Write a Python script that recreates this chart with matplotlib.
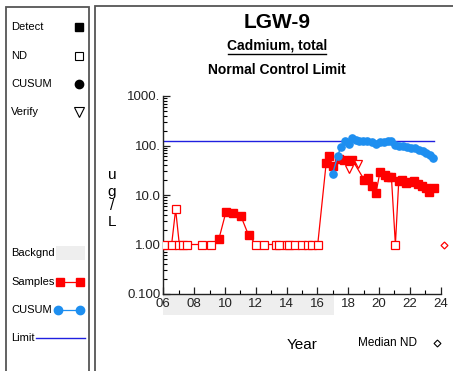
import matplotlib
matplotlib.use("Agg")
import matplotlib.pyplot as plt
from matplotlib.patches import Rectangle
from matplotlib.lines import Line2D
import matplotlib.ticker as mticker

plt.rcParams['font.family'] = ['Liberation Sans', 'DejaVu Sans']

# ---------------- data ----------------
title = "LGW-9"
subtitle = "Cadmium, total"
subtitle2 = "Normal Control Limit"

detect_years = [9.61, 10.07, 10.54, 11.02, 11.54,
                16.57, 16.74, 16.99, 17.40, 17.75, 18.25, 19.03, 19.30, 19.54,
                19.80, 20.06, 20.37, 20.56, 20.80, 21.28, 21.52, 21.75, 22.01,
                22.27, 22.51, 22.77, 23.03, 23.27, 23.55]
detect_vals = [1.3, 4.6, 4.4, 3.85, 1.52,
               44.7, 62.0, 39.4, 54.0, 50.5, 52.0, 20.5, 22.2, 15.0,
               11.1, 29.0, 24.8, 23.3, 23.3, 19.6, 19.9, 17.1, 18.1,
               19.0, 16.8, 15.0, 14.0, 11.4, 14.0]

nd_years = [6.05, 6.54, 6.80, 7.04, 7.26, 7.52, 8.53, 9.10,
            12.03, 12.54, 13.31, 13.51, 14.0, 14.17, 14.55, 14.98, 15.39,
            15.63, 16.02, 21.06]
nd_vals = [1.0, 1.0, 5.1, 1.0, 1.0, 1.0, 1.0, 1.0,
           1.0, 1.0, 1.0, 1.0, 1.0, 1.0, 1.0, 1.0, 1.0,
           1.0, 1.0, 1.0]

verify_years = [18.07, 18.66]
verify_vals = [34.0, 42.0]

cusum_years = [16.99, 17.31, 17.52, 17.78, 18.07, 18.25, 18.49, 18.70, 18.98,
               19.24, 19.52, 19.78, 20.06, 20.34, 20.60, 20.80, 21.06, 21.32,
               21.58, 21.84, 22.08, 22.34, 22.58, 22.84, 23.07, 23.31, 23.52]
cusum_vals = [26.8, 60.8, 94.0, 126.0, 108.0, 143.0, 132.0, 126.0, 122.0,
              122.0, 117.0, 108.0, 117.0, 120.0, 126.0, 122.0, 101.0, 100.0,
              97.0, 94.0, 91.0, 88.0, 83.0, 78.5, 70.0, 63.0, 55.7]

limit_value = 124.0
limit_span = [6.0, 23.55]
background_span = [6.0, 17.05]
median_nd_year = 24.2
median_nd_value = 1.0

x_ticks = [6, 8, 10, 12, 14, 16, 18, 20, 22, 24]
x_tick_labels = ["06", "08", "10", "12", "14", "16", "18", "20", "22", "24"]
y_ticks = [0.1, 1, 10, 100, 1000]
y_tick_labels = ["0.100", "1.00", "10.0", "100.", "1000."]

legend_labels = ["Detect", "ND", "CUSUM", "Verify", "Backgnd", "Samples", "CUSUM", "Limit"]

# ---------------- figure ----------------
W, H = 453, 371
fig = plt.figure(figsize=(W / 100, H / 100), dpi=100)

def fx(px):
    return px / W

def fy(py):
    return 1 - py / H

RED = "#ff0000"
BLUE = "#1e8ff0"
LIMIT = "#2020e0"

# frames
fig.patches.append(Rectangle((fx(6), fy(380)), fx(89) - fx(6), fy(7) - fy(380),
                             transform=fig.transFigure, fill=False,
                             edgecolor="#555555", linewidth=1.3))
fig.patches.append(Rectangle((fx(95), fy(380)), fx(460) - fx(95), fy(6) - fy(380),
                             transform=fig.transFigure, fill=False,
                             edgecolor="#555555", linewidth=1.3))

# main axes
ax = fig.add_axes([fx(163.3), fy(294), fx(440.7) - fx(163.3), fy(96) - fy(294)])
ax.set_yscale("log")
ax.set_xlim(6, 24)
ax.set_ylim(0.1, 1000)
for s in ["top", "right"]:
    ax.spines[s].set_visible(False)
for s in ["left", "bottom"]:
    ax.spines[s].set_linewidth(1.0)
    ax.spines[s].set_color("#222222")

ax.set_xticks(x_ticks)
ax.set_xticklabels(x_tick_labels)
ax.xaxis.set_minor_locator(mticker.MultipleLocator(1))
ax.set_yticks(y_ticks)
ax.set_yticklabels(y_tick_labels)
ax.yaxis.set_minor_locator(mticker.LogLocator(base=10, subs=range(2, 10)))
ax.yaxis.set_minor_formatter(mticker.NullFormatter())
ax.tick_params(axis="both", which="major", direction="in", length=5, width=0.9,
               labelsize=9.5, colors="#222222", pad=2)
ax.tick_params(axis="both", which="minor", direction="in", length=3, width=0.8)
ax.tick_params(axis="x", which="major", pad=3)

# background band under x axis
ax.add_patch(Rectangle((background_span[0], -0.105), background_span[1] - background_span[0], 0.105,
                       transform=ax.get_xaxis_transform(), facecolor="#eeeeee",
                       edgecolor="none", clip_on=False, zorder=0))

# limit line
ax.plot(limit_span, [limit_value, limit_value], color=LIMIT, linewidth=1.0, zorder=2)

# samples line (detect + ND, in date order)
pairs = sorted(list(zip(detect_years, detect_vals)) + list(zip(nd_years, nd_vals)))
ax.plot([p[0] for p in pairs], [p[1] for p in pairs], color=RED, linewidth=0.9, zorder=3)
ax.plot(detect_years, detect_vals, linestyle="none", marker="s", markersize=5.8,
        markerfacecolor=RED, markeredgecolor=RED, zorder=4)
ax.plot(nd_years, nd_vals, linestyle="none", marker="s", markersize=5.2,
        markerfacecolor="white", markeredgecolor=RED, markeredgewidth=0.9, zorder=4)
ax.plot(verify_years, verify_vals, linestyle="none", marker="v", markersize=5.5,
        markerfacecolor="white", markeredgecolor=RED, markeredgewidth=0.9, zorder=4)

# CUSUM
ax.plot(cusum_years, cusum_vals, color=BLUE, linewidth=1.0, marker="o", markersize=5.2,
        markerfacecolor=BLUE, markeredgecolor=BLUE, zorder=5)

# median ND
ax.plot([median_nd_year], [median_nd_value], linestyle="none", marker="D", markersize=3.5,
        markerfacecolor="white", markeredgecolor=RED, markeredgewidth=0.9, clip_on=False, zorder=5)

# titles
fig.text(fx(277), fy(23), title, ha="center", va="center", fontsize=15, fontweight="bold")
t2 = fig.text(fx(277), fy(46), subtitle, ha="center", va="center", fontsize=10, fontweight="bold")
fig.add_artist(Line2D([fx(228), fx(326)], [fy(53.5), fy(53.5)], color="black", linewidth=1.0))
fig.text(fx(277), fy(70), subtitle2, ha="center", va="center", fontsize=10, fontweight="bold")

# y label stacked
for ch, yy in zip(["u", "g", "/", "L"], [175, 192, 206, 222]):
    fig.text(fx(112), fy(yy), ch, ha="center", va="center", fontsize=11)

fig.text(fx(302), fy(345), "Year", ha="center", va="center", fontsize=11)
fig.text(fx(388), fy(343), "Median ND", ha="center", va="center", fontsize=8.5)
fig.add_artist(Line2D([fx(437)], [fy(343)], marker="D", markersize=3.5, markerfacecolor="white",
                      markeredgecolor="black", markeredgewidth=0.8, linestyle="none"))

# left legend
lx = fx(11)
leg_y = [27, 56, 84, 112, 253, 282, 310, 338]
for lab, yy in zip(legend_labels, leg_y):
    fig.text(lx, fy(yy), lab, ha="left", va="center", fontsize=8)

fig.add_artist(Line2D([fx(79)], [fy(27)], marker="s", markersize=6, markerfacecolor="black",
                      markeredgecolor="black", linestyle="none"))
fig.add_artist(Line2D([fx(79)], [fy(56)], marker="s", markersize=6, markerfacecolor="white",
                      markeredgecolor="black", markeredgewidth=0.8, linestyle="none"))
fig.add_artist(Line2D([fx(79)], [fy(84)], marker="o", markersize=6, markerfacecolor="black",
                      markeredgecolor="black", linestyle="none"))
fig.add_artist(Line2D([fx(79)], [fy(112)], marker="v", markersize=7, markerfacecolor="white",
                      markeredgecolor="black", markeredgewidth=0.8, linestyle="none"))
fig.patches.append(Rectangle((fx(56), fy(260)), fx(85) - fx(56), fy(246) - fy(260),
                             transform=fig.transFigure, facecolor="#eeeeee", edgecolor="none"))
fig.add_artist(Line2D([fx(60), fx(80)], [fy(282), fy(282)], color=RED, linewidth=0.9,
                      marker="s", markersize=6, markerfacecolor=RED, markeredgecolor=RED))
fig.add_artist(Line2D([fx(58), fx(80)], [fy(310), fy(310)], color=BLUE, linewidth=0.9,
                      marker="o", markersize=6, markerfacecolor=BLUE, markeredgecolor=BLUE))
fig.add_artist(Line2D([fx(36), fx(85)], [fy(338), fy(338)], color=LIMIT, linewidth=1.0))

fig.savefig("out.png", dpi=100)
